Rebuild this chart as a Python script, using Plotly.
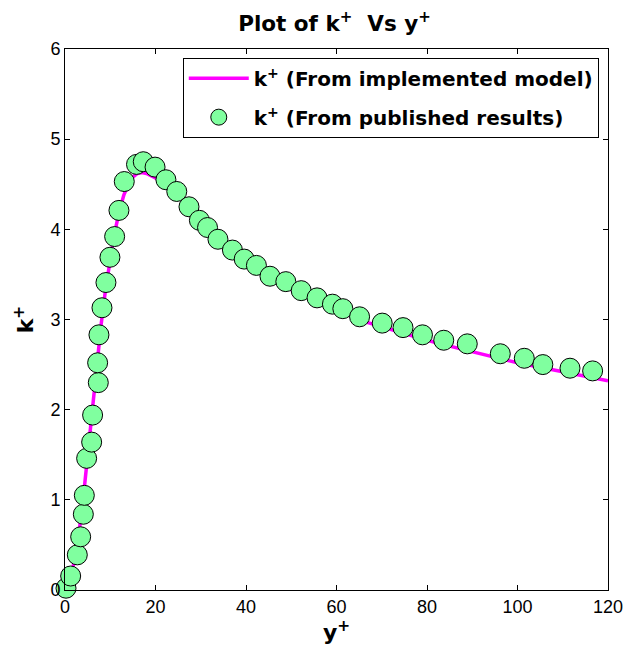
import plotly.graph_objects as go

# Model curve (implemented model)
model_y = [0, 1, 2, 3, 4, 5, 6, 7, 8, 9, 10, 11, 12, 13, 14, 15, 16, 17, 18, 20, 22, 25, 28, 30,
           35, 40, 45, 50, 55, 60, 66.6, 70, 77, 80, 87, 94, 100, 110, 120]
model_k = [0, 0.1, 0.3, 0.6, 1.0, 1.5, 1.92, 2.42, 2.95, 3.35, 3.68, 3.97, 4.2, 4.38, 4.5, 4.58,
           4.62, 4.63, 4.62, 4.57, 4.5, 4.37, 4.22, 4.12, 3.88, 3.68, 3.49, 3.33, 3.22, 3.10,
           2.97, 2.92, 2.81, 2.77, 2.68, 2.59, 2.52, 2.42, 2.32]

# Published results
pub_y = [0.22, 1.25, 2.72, 3.46, 4.05, 4.27, 4.78, 5.89, 6.1, 7.36, 7.21, 7.5, 8.17, 9.05, 9.93,
         10.97, 11.92, 13.1, 15.8, 17.3, 19.9, 22.3, 24.7, 27.4, 29.7, 31.5, 33.8, 37.0, 39.6,
         42.3, 45.3, 48.8, 52.2, 55.7, 59.1, 61.4, 65.1, 70.1, 74.7, 79.0, 83.7, 88.9, 96.2,
         101.5, 105.6, 111.6, 116.6]
pub_k = [0.02, 0.155, 0.39, 0.59, 0.84, 1.05, 1.46, 1.64, 1.94, 2.30, 2.52, 2.83, 3.13, 3.41, 3.69,
         3.92, 4.21, 4.53, 4.72, 4.75, 4.69, 4.55, 4.42, 4.25, 4.10, 4.02, 3.89, 3.77, 3.67,
         3.60, 3.48, 3.42, 3.32, 3.24, 3.17, 3.12, 3.03, 2.96, 2.91, 2.83, 2.77, 2.73, 2.62,
         2.57, 2.50, 2.46, 2.43]

x_ticks = [0, 20, 40, 60, 80, 100, 120]
y_ticks = [0, 1, 2, 3, 4, 5, 6]

bold_font = "DejaVu Sans, Liberation Sans, Arial, sans-serif"
tick_font = "Liberation Sans Narrow, Liberation Sans, Arial, sans-serif"

fig = go.Figure()
fig.add_trace(go.Scatter(
    x=model_y, y=model_k, mode="lines",
    line=dict(color="#FF00FF", width=3.5),
    name="<b>k<sup>+</sup> (From implemented model)</b>",
    legendgroup="a", cliponaxis=False,
))
fig.add_trace(go.Scatter(
    x=pub_y, y=pub_k, mode="markers",
    marker=dict(size=20, color="#80FF9F", line=dict(color="black", width=1)),
    name="<b>k<sup>+</sup> (From published results)</b>",
    legendgroup="b", cliponaxis=False,
))

axis_common = dict(
    showgrid=False, zeroline=False, showline=True, linecolor="black", linewidth=1,
    mirror="ticks", ticks="inside", ticklen=5, tickcolor="black", automargin=False,
    ticklabeloverflow="allow",
    tickfont=dict(family=tick_font, size=18, color="black"),
)

fig.update_layout(
    width=623, height=659,
    margin=dict(l=65, r=15, t=49, b=69),
    paper_bgcolor="white", plot_bgcolor="white",
    title=dict(text="<b>Plot of k<sup>+</sup>  Vs y<sup>+</sup></b>", x=0.537, xanchor="center",
               y=0.965, yanchor="middle",
               font=dict(family=bold_font, size=21.5, color="black")),
    xaxis=dict(range=[0, 120], tickvals=x_ticks, ticktext=[str(v) for v in x_ticks],
               title=dict(text="<b>y<sup>+</sup></b>", standoff=6,
                          font=dict(family=bold_font, size=22, color="black")),
               **axis_common),
    yaxis=dict(range=[0, 6], tickvals=y_ticks, ticktext=[str(v) for v in y_ticks],
               title=dict(text="<b>k<sup>+</sup></b>", standoff=10,
                          font=dict(family=bold_font, size=22, color="black")),
               **axis_common),
    legend=dict(x=0.983, y=0.984, xanchor="right", yanchor="top",
                bgcolor="white", bordercolor="black", borderwidth=1,
                font=dict(family=bold_font, size=20, color="black"),
                itemwidth=60, tracegroupgap=10, traceorder="grouped"),
    showlegend=True,
)

fig.write_html("out.html")
